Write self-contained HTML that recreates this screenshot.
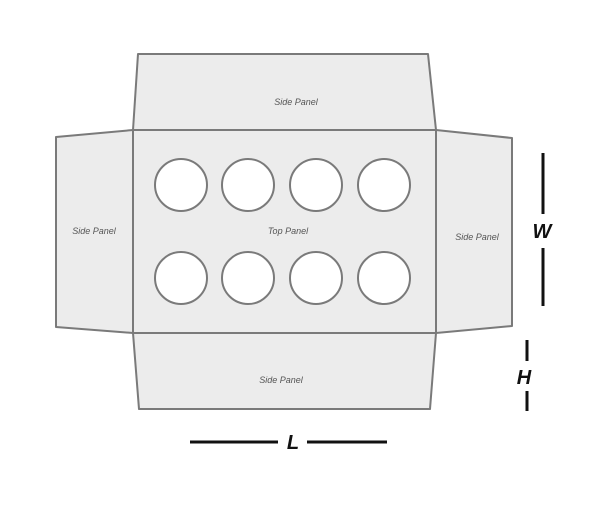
<!DOCTYPE html>
<html><head><style>body{margin:0;background:#fff}</style></head><body>
<svg width="600" height="500" xmlns="http://www.w3.org/2000/svg">
<g fill="#ececec" stroke="#7a7a7a" stroke-width="2" stroke-linejoin="round">
<polygon points="138,54 428,54 436,130 133,130"/>
<polygon points="436,130 512,138 512,326 436,333"/>
<polygon points="133,130 56,137 56,327 133,333"/>
<polygon points="133,333 436,333 430,409 139,409"/>
<rect x="133" y="130" width="303" height="203"/>
</g>
<g fill="#fff" stroke="#7a7a7a" stroke-width="2">
<circle cx="181" cy="185" r="26"/><circle cx="248" cy="185" r="26"/><circle cx="316" cy="185" r="26"/><circle cx="384" cy="185" r="26"/>
<circle cx="181" cy="278" r="26"/><circle cx="248" cy="278" r="26"/><circle cx="316" cy="278" r="26"/><circle cx="384" cy="278" r="26"/>
</g>
<g font-family="Liberation Sans, sans-serif" font-size="9" font-style="italic" fill="#555" text-anchor="middle">
<text x="296" y="105">Side Panel</text>
<text x="94" y="234">Side Panel</text>
<text x="288" y="234">Top Panel</text>
<text x="477" y="240">Side Panel</text>
<text x="281" y="383">Side Panel</text>
</g>
<g stroke="#111" stroke-width="3">
<line x1="543" y1="153" x2="543" y2="214"/><line x1="543" y1="248" x2="543" y2="306"/>
<line x1="527" y1="340" x2="527" y2="361"/><line x1="527" y1="391" x2="527" y2="411"/>
<line x1="190" y1="442" x2="278" y2="442"/><line x1="307" y1="442" x2="387" y2="442"/>
</g>
<g font-family="Liberation Sans, sans-serif" font-size="20" font-style="italic" font-weight="bold" fill="#111" text-anchor="middle">
<text x="542" y="238">W</text>
<text x="524" y="384">H</text>
<text x="293" y="449">L</text>
</g>
</svg>
</body></html>
